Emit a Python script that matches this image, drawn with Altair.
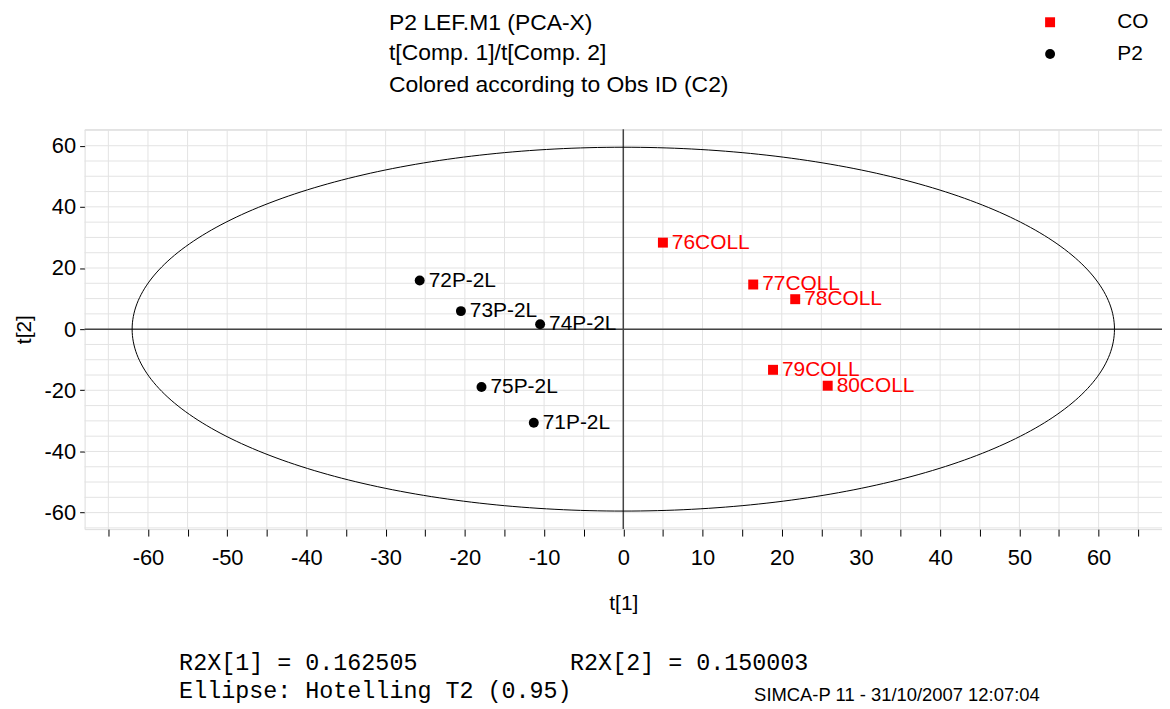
import numpy as np
import pandas as pd
import altair as alt

# ---- data ----
obs_ids = ["71P-2L", "72P-2L", "73P-2L", "74P-2L", "75P-2L",
           "76COLL", "77COLL", "78COLL", "79COLL", "80COLL"]
t1_vals = [-11.3, -25.7, -20.5, -10.5, -17.9, 5.0, 16.4, 21.7, 18.9, 25.8]
t2_vals = [-30.6, 15.9, 5.9, 1.6, -18.9, 28.3, 14.6, 9.8, -13.3, -18.5]
groups = ["P2", "P2", "P2", "P2", "P2", "CO", "CO", "CO", "CO", "CO"]

group_names = ["CO", "P2"]
group_colors = ["#ff0000", "#000000"]
group_shapes = ["square", "circle"]

x_ticks = list(range(-65, 66, 5))
y_ticks = list(range(-60, 61, 10))
grid_vals = list(range(-65, 66, 5))

ellipse_a = 62.0   # Hotelling T2 ellipse semi-axis along t[1]
ellipse_b = 59.5   # semi-axis along t[2]

title_lines = ["P2 LEF.M1 (PCA-X)", "t[Comp. 1]/t[Comp. 2]",
               "Colored according to Obs ID (C2)"]
footer_r2x1 = ["R2X[1] = 0.162505"]
footer_r2x2 = ["R2X[2] = 0.150003"]
footer_ell = ["Ellipse: Hotelling T2 (0.95)"]
footer_soft = ["SIMCA-P 11 - 31/10/2007 12:07:04"]

# ---- tables ----
df = pd.DataFrame({"t1": t1_vals, "t2": t2_vals, "id": obs_ids, "grp": groups})
theta = np.linspace(0, 2 * np.pi, 361)
ell = pd.DataFrame({"t1": ellipse_a * np.cos(theta),
                    "t2": ellipse_b * np.sin(theta),
                    "o": np.arange(len(theta))})
gx = pd.DataFrame({"g": grid_vals})
zero = pd.DataFrame({"z": [0]})

FONT = "Liberation Sans"
MONO = "Liberation Mono"
xs = alt.Scale(domain=[-68, 68], nice=False, zero=False)
ys = alt.Scale(domain=[-65.4, 65.4], nice=False, zero=False)

xaxis = alt.Axis(values=x_ticks, grid=False, domain=False, tickSize=7,
                 tickColor="black", labelFontSize=22, labelFont=FONT,
                 labelColor="black", labelPadding=12,
                 labelExpr="datum.value % 10 === 0 ? toString(datum.value) : ''",
                 title="t[1]", titleFont=FONT, titleFontSize=21,
                 titleFontWeight="normal", titlePadding=24, titleColor="black")
yaxis = alt.Axis(values=y_ticks, grid=False, domain=False, tickSize=5,
                 tickColor="black", labelFontSize=22, labelFont=FONT,
                 labelColor="black", labelPadding=4,
                 labelExpr="datum.value % 20 === 0 ? toString(datum.value) : ''",
                 title="t[2]", titleFont=FONT, titleFontSize=21,
                 titleFontWeight="normal", titlePadding=10, titleColor="black")

gridx = alt.Chart(gx).mark_rule(color="#e3e3e3", strokeWidth=1).encode(
    x=alt.X("g:Q", scale=xs, axis=xaxis))
gridy = alt.Chart(gx).mark_rule(color="#e3e3e3", strokeWidth=1).encode(
    y=alt.Y("g:Q", scale=ys, axis=yaxis))
zx = alt.Chart(zero).mark_rule(color="#444444", strokeWidth=1.5).encode(x="z:Q")
zy = alt.Chart(zero).mark_rule(color="#444444", strokeWidth=1.5).encode(y="z:Q")

ellipse = alt.Chart(ell).mark_line(color="black", strokeWidth=1).encode(
    x="t1:Q", y="t2:Q", order="o:Q")

color = alt.Color("grp:N", scale=alt.Scale(domain=group_names, range=group_colors),
                  legend=alt.Legend(title=None, orient="none", legendX=960,
                                    legendY=-118, padding=0, labelFontSize=21,
                                    labelFont=FONT, labelColor="black",
                                    labelOffset=57, symbolSize=100,
                                    rowPadding=10, symbolStrokeWidth=0))
shape = alt.Shape("grp:N", scale=alt.Scale(domain=group_names, range=group_shapes))

points = alt.Chart(df).mark_point(filled=True, size=100, opacity=1).encode(
    x="t1:Q", y="t2:Q", color=color, shape=shape)
labels = alt.Chart(df).mark_text(align="left", baseline="middle", dx=9,
                                 fontSize=21, font=FONT).encode(
    x="t1:Q", y="t2:Q", text="id:N", color=alt.Color("grp:N", legend=None))

def txt(lines, x, y, font, size, align="left"):
    return alt.Chart(pd.DataFrame({"t": lines})).mark_text(
        align=align, baseline="middle", font=font, fontSize=size, color="black"
    ).encode(text="t:N", x=alt.value(x), y=alt.value(y))

t_1 = txt(title_lines[0:1], 306, -107, FONT, 23)
t_2 = txt(title_lines[1:2], 306, -77, FONT, 23)
t_3 = txt(title_lines[2:3], 306, -44, FONT, 23)
f1 = txt(footer_r2x1, 95, 537, MONO, 23.5)
f2 = txt(footer_r2x2, 488, 537, MONO, 23.5)
f3 = txt(footer_ell, 95, 565, MONO, 23.5)
f4 = txt(footer_soft, 673, 569, FONT, 18.5)

chart = alt.layer(gridx, gridy, zx, zy, ellipse, points, labels,
                  t_1, t_2, t_3, f1, f2, f3, f4).properties(
    width=1083, height=402,
    autosize=alt.AutoSizeParams(type="none"),
    padding={"left": 77, "top": 120, "right": 0, "bottom": 180},
).configure_view(stroke="black", strokeWidth=1).configure(background="white")

chart.save("out.html", embed_options={"renderer": "svg", "actions": False})
